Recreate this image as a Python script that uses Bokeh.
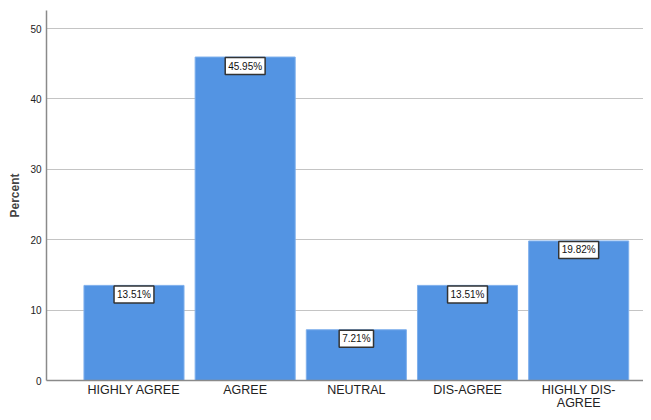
from bokeh.plotting import figure
from bokeh.models import ColumnDataSource, Label, Range1d, FixedTicker
from bokeh.embed import file_html
from bokeh.resources import INLINE

categories = ["HIGHLY AGREE", "AGREE", "NEUTRAL", "DIS-AGREE", "HIGHLY DIS-\nAGREE"]
percent = [13.51, 45.95, 7.21, 13.51, 19.82]
labels = ["13.51%", "45.95%", "7.21%", "13.51%", "19.82%"]
y_ticks = [0, 10, 20, 30, 40, 50]

idx = list(range(len(categories)))
src = ColumnDataSource(dict(x=idx, y=percent, lab=labels))

p = figure(width=643, height=412, output_backend="svg", toolbar_location=None,
           x_range=Range1d(-0.787, 4.583), y_range=Range1d(0, 52.56),
           min_border_left=46, min_border_right=0, min_border_top=10, min_border_bottom=32)
p.title.visible = False
p.outline_line_color = None
p.background_fill_color = "white"

p.vbar(x="x", top="y", width=0.9, source=src, fill_color="#5394E3", line_color="#7FB0EC", line_width=1)

p.xaxis.ticker = FixedTicker(ticks=idx)
p.xaxis.major_label_overrides = {i: c for i, c in zip(idx, categories)}
p.yaxis.ticker = FixedTicker(ticks=y_ticks)

for ax in (p.xaxis[0], p.yaxis[0]):
    ax.axis_line_color = "#8a8a8a"
    ax.axis_line_width = 1.5
    ax.major_tick_line_color = None
    ax.minor_tick_line_color = None
    ax.major_tick_out = 0
    ax.major_tick_in = 0
    ax.minor_tick_out = 0
    ax.minor_tick_in = 0
    ax.major_label_text_font = "Liberation Sans"
    ax.major_label_text_color = "#222222"

p.xaxis.major_label_text_font_size = "12.5px"
p.xaxis.major_label_text_line_height = 0.95
p.xaxis.major_label_standoff = 2
p.yaxis.major_label_text_font_size = "10px"
p.yaxis.major_label_standoff = 5
p.yaxis.axis_label = "Percent"
p.yaxis.axis_label_text_font = "Liberation Sans"
p.yaxis.axis_label_text_font_style = "bold"
p.yaxis.axis_label_text_font_size = "12px"
p.yaxis.axis_label_standoff = 5

p.xgrid.grid_line_color = None
p.ygrid.grid_line_color = "#c4c4c4"
p.ygrid.grid_line_width = 1
p.ygrid.ticker = FixedTicker(ticks=[10, 20, 30, 40, 50])

for xi, yi, lab in zip(idx, percent, labels):
    p.add_layout(Label(x=xi, y=yi, text=lab, text_align="center", text_baseline="middle",
                       y_offset=-9, text_font="Liberation Sans", text_font_size="10px",
                       text_color="#111111", background_fill_color="white",
                       border_line_color="#333333", border_line_width=1.5, padding=3))

open("out.html", "w").write(file_html(p, INLINE))
